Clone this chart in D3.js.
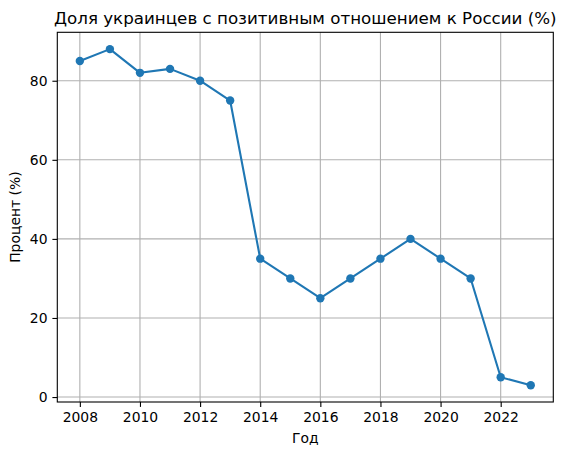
<!DOCTYPE html>
<html>
<head>
<meta charset="utf-8">
<script src="https://cdn.jsdelivr.net/npm/d3@7"></script>
<style>
	body { margin: 0; background: #fff; }
	text { font-family: "DejaVu Sans", sans-serif; fill: #000; }
</style>
</head>
<body>
<script>
var years = [2008, 2009, 2010, 2011, 2012, 2013, 2014, 2015, 2016, 2017, 2018, 2019, 2020, 2021, 2022, 2023];
var share = [85, 88, 82, 83, 80, 75, 35, 30, 25, 30, 35, 40, 35, 30, 5, 3];
var xTicks = [2008, 2010, 2012, 2014, 2016, 2018, 2020, 2022];
var yTicks = [0, 20, 40, 60, 80];
var title = "Доля украинцев с позитивным отношением к России (%)";
var xLabel = "Год";
var yLabel = "Процент (%)";

var width = 564, height = 455;
// plot area (window.top is reserved, so use other names)
var padL = 57.3, padR = 553.3, padT = 32.3, padB = 402;

var svg = d3.select("body").append("svg")
	.attr("width", width)
	.attr("height", height);

var x = d3.scaleLinear()
	.domain([2007.25, 2023.75])
	.range([padL, padR]);

var y = d3.scaleLinear()
	.domain([-1.25, 92.25])
	.range([padB, padT]);

// grid
var grid = svg.append("g").attr("stroke", "#b0b0b0").attr("stroke-width", 1.1);
grid.selectAll(".gx")
	.data(xTicks)
	.enter()
	.append("line")
	.attr("x1", d => x(d)).attr("x2", d => x(d))
	.attr("y1", padT).attr("y2", padB);
grid.selectAll(".gy")
	.data(yTicks)
	.enter()
	.append("line")
	.attr("x1", padL).attr("x2", padR)
	.attr("y1", d => y(d)).attr("y2", d => y(d));

// axes
var xAxis = d3.axisBottom(x)
	.tickValues(xTicks)
	.tickFormat(d3.format("d"))
	.tickSize(4.9)
	.tickPadding(4.9)
	.tickSizeOuter(0);
var gx = svg.append("g")
	.attr("transform", "translate(0," + padB + ")")
	.call(xAxis);

var yAxis = d3.axisLeft(y)
	.tickValues(yTicks)
	.tickSize(4.9)
	.tickPadding(4.9)
	.tickSizeOuter(0);
var gy = svg.append("g")
	.attr("transform", "translate(" + padL + ",0)")
	.call(yAxis);

[gx, gy].forEach(function (g) {
	g.select(".domain").remove();
	g.selectAll(".tick line").attr("stroke", "#000").attr("stroke-width", 1.1);
	g.selectAll(".tick text").style("font-size", "13.9px").style("font-family", "DejaVu Sans");
});

// frame
svg.append("rect")
	.attr("x", padL).attr("y", padT)
	.attr("width", padR - padL).attr("height", padB - padT)
	.attr("fill", "none")
	.attr("stroke", "#000")
	.attr("stroke-width", 1.1);

// line + markers
var data = years.map((yr, i) => ({ year: yr, value: share[i] }));
var line = d3.line()
	.x(d => x(d.year))
	.y(d => y(d.value));

svg.append("path")
	.datum(data)
	.attr("fill", "none")
	.attr("stroke", "#1f77b4")
	.attr("stroke-width", 2.1)
	.attr("stroke-linejoin", "round")
	.attr("d", line);

svg.append("g")
	.selectAll("circle")
	.data(data)
	.enter()
	.append("circle")
	.attr("cx", d => x(d.year))
	.attr("cy", d => y(d.value))
	.attr("r", 4.2)
	.attr("fill", "#1f77b4");

// labels
svg.append("text")
	.attr("x", (padL + padR) / 2)
	.attr("y", padT - 8.3)
	.attr("text-anchor", "middle")
	.style("font-size", "16.7px")
	.text(title);

svg.append("text")
	.attr("x", (padL + padR) / 2)
	.attr("y", 443)
	.attr("text-anchor", "middle")
	.style("font-size", "13.9px")
	.text(xLabel);

svg.append("text")
	.attr("transform", "translate(20," + (padT + padB) / 2 + ") rotate(-90)")
	.attr("text-anchor", "middle")
	.style("font-size", "13.9px")
	.text(yLabel);
</script>
</body>
</html>
